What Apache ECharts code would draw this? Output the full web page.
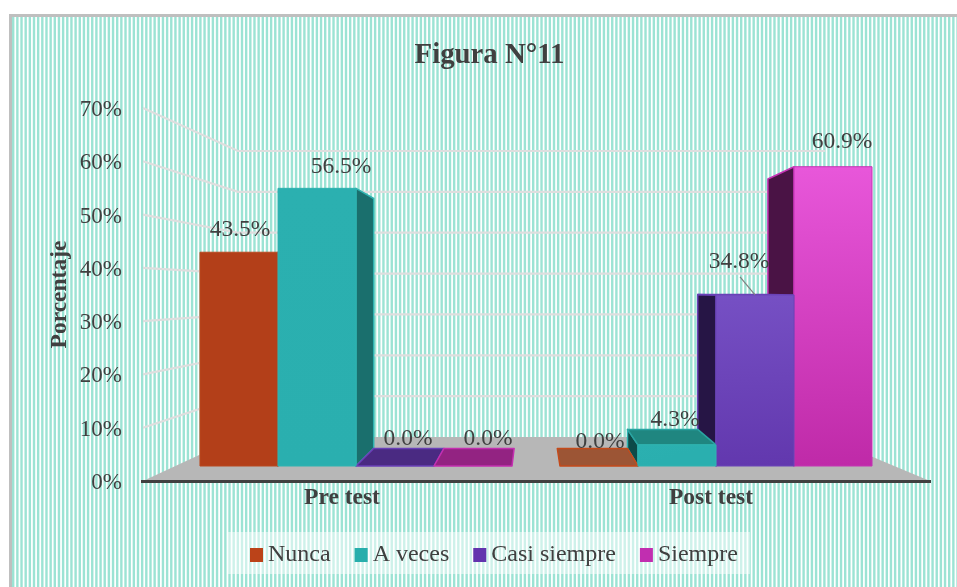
<!DOCTYPE html>
<html><head><meta charset="utf-8">
<style>html,body{margin:0;padding:0;background:#fff}#c{width:957px;height:587px}</style>
<script src="https://cdn.jsdelivr.net/npm/echarts@6/dist/echarts.min.js"></script>
</head><body><div id="c"></div>
<script>
const categories = ['Pre test', 'Post test'];
const seriesNames = ['Nunca', 'A veces', 'Casi siempre', 'Siempre'];
const nunca = [43.5, 0.0];
const aVeces = [56.5, 4.3];
const casiSiempre = [0.0, 34.8];
const siempre = [0.0, 60.9];
const wallTicks = [10, 20, 30, 40, 50, 60, 70];

const FONT = '"Liberation Serif","Times New Roman",serif';
const INK = '#404040';

/* look of each series: legend colour, front fill, stroke, side, top */
const looks = [
  {legend:'#bb4319', front:['#b33f19','#b33f19'], stroke:'#b9481f', side:'#7d2c12', top:'#9c5535', topStroke:'#c44a1a'},
  {legend:'#28aeac', front:['#2bb0b0','#2aafaf'], stroke:'#2fb3b0', side:'#1a6f6d', sideL:'#0d4a48', top:'#1f8680', topStroke:'#2aa5a2'},
  {legend:'#6334ae', front:['#7650c4','#6238ae'], stroke:'#6a44b8', side:'#4a2a82', sideL:'#261545', top:'#4a2a82', topStroke:'#6a40b8'},
  {legend:'#c12eb0', front:['#e857da','#bf2aa8'], stroke:'#c434b4', side:'#932382', sideL:'#4a1345', top:'#932382', topStroke:'#c42fb0'}
];
/* label placement relative to top centre of each bar [series][category] */
const labelShift = [
  [[1,-22],[1,-24]],
  [[24,-22],[-2,-25]],
  [[13,-27],[-16,-33]],
  [[15,-27],[9,-25]]
];

/* perspective: bars recede towards a vanishing point */
const VP = [533, 290], K = 0.1;
const back = p => [p[0] + (VP[0]-p[0])*K, p[1] + (VP[1]-p[1])*K];

function barItem(sIdx) {
  return function (params, api) {
    const cat = api.value(0), val = api.value(1);
    const base = api.coord([cat, 0]), top = api.coord([cat, val]);
    const w = api.size([1, 0])[0] * 0.2167;
    const x0 = base[0] - 2*w + sIdx*w, x1 = x0 + w;
    const yb = base[1], yt = top[1];
    const L = looks[sIdx];
    const z = cat === 0 ? sIdx : 3 - sIdx;
    const kids = [];
    const poly = (pts, fill, stroke, z2) => kids.push({type:'polygon', z2,
      shape:{points:pts}, style:{fill, stroke, lineWidth:1.5, lineJoin:'round'}});
    const isLeft = cat === 0;
    const ex = isLeft ? x1 : x0;
    if (val > 0) {
      poly([[ex,yt], back([ex,yt]), back([ex,yb]), [ex,yb]],
           isLeft ? L.side : (L.sideL || L.side), L.stroke, z);
    }
    if (yt > VP[1]) {
      poly([[x0,yt],[x1,yt],back([x1,yt]),back([x0,yt])], L.top, L.topStroke, z);
    }
    if (val > 0) {
      kids.push({type:'rect', z2:10+z, shape:{x:x0,y:yt,width:w,height:yb-yt},
        style:{stroke:L.stroke, lineWidth:1,
          fill:{type:'linear',x:0,y:0,x2:0.08,y2:1,colorStops:[{offset:0,color:L.front[0]},{offset:1,color:L.front[1]}]}}});
    }
    const sh = labelShift[sIdx][cat];
    const lx = (x0+x1)/2 + sh[0], ly = yt + sh[1];
    kids.push({type:'text', z2:100, style:{x:lx, y:ly, text:val.toFixed(1)+'%', fill:INK,
      font:'23.5px '+FONT, align:'center', verticalAlign:'middle'}});
    if (sIdx === 2 && cat === 1) {
      kids.push({type:'line', z2:100, shape:{x1:lx+1,y1:ly+15,x2:lx+16,y2:yt},
        style:{stroke:'#7f7f7f', lineWidth:1.2}});
    }
    return {type:'group', children:kids};
  };
}

function wallItem(params, api) {
  const v = api.value(0);
  const yFront = api.coord([0, v])[1];
  const yBack = 437 - v * (286/70);
  return {type:'polyline', shape:{points:[[143,yFront],[238,yBack],[825,yBack]]},
    style:{stroke:'#dedede', lineWidth:2.2, fill:null}};
}

/* striped backdrop with outline */
const bg = document.createElement('canvas');
bg.width = 957; bg.height = 587;
const g = bg.getContext('2d');
g.fillStyle = '#fff'; g.fillRect(0,0,957,587);
g.fillStyle = '#9ce3d4';
for (let i = 0, x = 12; x < 957; i++, x = 12 + i*4.16) g.fillRect(x,17,2.4,570);
g.fillStyle = '#bfbfbf';
g.fillRect(9,14,948,3); g.fillRect(9,14,3,573);

const valueSets = [nunca, aVeces, casiSiempre, siempre];
const barSeries = seriesNames.map((name, i) => ({
  name, type:'custom', xAxisIndex:1, yAxisIndex:1, z:3, clip:false,
  renderItem: barItem(i), encode:{x:0,y:1},
  itemStyle:{color:looks[i].legend},
  data: valueSets[i].map((v, c) => [c, v])
}));

const chart = echarts.init(document.getElementById('c'), null, {renderer:'canvas'});
chart.setOption({
  animation:false,
  backgroundColor:{image:bg, repeat:'no-repeat'},
  title:{text:'Figura N°11', left:484.5, top:51, textAlign:'center', textVerticalAlign:'middle',
    textStyle:{fontFamily:FONT, fontWeight:'bold', fontSize:28.8, color:INK}},
  grid:[
    {left:157.5, right:61.5, top:108, bottom:106},
    {left:176, right:61, top:122, bottom:121},
    {left:157.5, right:61.5, top:110, bottom:104}
  ],
  xAxis:[
    {type:'category', gridIndex:0, data:categories, z:5,
     axisLine:{show:false}, axisTick:{show:false},
     axisLabel:{margin:5, fontFamily:FONT, fontWeight:'bold', fontSize:23.5, color:INK}},
    {type:'category', gridIndex:1, data:categories, show:false},
    {type:'category', gridIndex:2, data:categories, show:false}
  ],
  yAxis:[
    {type:'value', gridIndex:0, min:0, max:70, interval:10,
     name:'Porcentaje', nameLocation:'middle', nameGap:86, nameRotate:90,
     nameTextStyle:{fontFamily:FONT, fontWeight:'bold', fontSize:23.5, color:INK},
     axisLine:{show:false}, axisTick:{show:false}, splitLine:{show:false}, axisLabel:{show:false}},
    {type:'value', gridIndex:1, min:0, max:70, interval:10, show:false, splitLine:{show:false}},
    {type:'value', gridIndex:2, min:0, max:70, interval:10,
     axisLine:{show:false}, axisTick:{show:false}, splitLine:{show:false},
     axisLabel:{margin:35.5, formatter:'{value}%', fontFamily:FONT, fontSize:23, color:INK}}
  ],
  legend:{left:227, top:532, orient:'horizontal', itemWidth:13, itemHeight:14, itemGap:24,
    padding:[11,12,7,23], backgroundColor:'rgba(255,255,255,0.5)', icon:'rect',
    data:seriesNames, textStyle:{fontFamily:FONT, fontSize:24, color:INK}},
  graphic:[
    {type:'polygon', z:1, silent:true, shape:{points:[[143,481],[930,481],[825,437],[238,437]]},
      style:{fill:'#b7b7b7'}},
    {type:'line', z:2, silent:true, shape:{x1:141,y1:481.5,x2:931,y2:481.5},
      style:{stroke:INK, lineWidth:3}}
  ],
  series:[
    {type:'custom', name:'wall', xAxisIndex:0, yAxisIndex:0, z:2, clip:false, silent:true,
     renderItem:wallItem, encode:{y:0}, data:wallTicks.map(v=>[v])}
  ].concat(barSeries)
});
</script></body></html>
